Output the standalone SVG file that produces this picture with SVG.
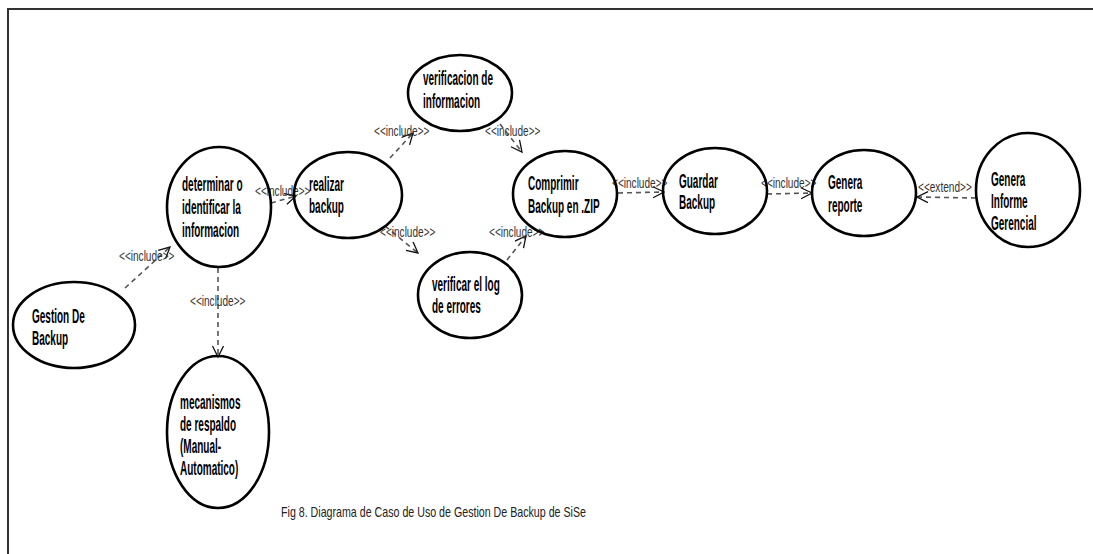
<svg xmlns="http://www.w3.org/2000/svg" width="1093" height="554" viewBox="0 0 1093 554">
  <style>
    .uc { fill: none; stroke: #000000; stroke-width: 2.6; }
    .nt { font-family: "Liberation Sans", Arial, sans-serif; font-weight: bold; font-size: 20px; fill: #000000; }
    .lb { font-family: "Liberation Sans", Arial, sans-serif; font-size: 14px; fill: #333333; }
    .dep { fill: none; stroke: #555555; stroke-width: 1.6; stroke-dasharray: 5 4; marker-end: url(#open); }
    .frame { fill: none; stroke: #333333; stroke-width: 2; }
    .cap { font-family: "Liberation Sans", Arial, sans-serif; font-size: 15px; fill: #222222; }
  </style>
  <defs>
    <marker id="open" markerUnits="userSpaceOnUse" markerWidth="14" markerHeight="14" refX="12" refY="6" orient="auto">
      <path d="M1,0.5 L12,6 L1,11.5" fill="none" stroke="#111111" stroke-width="1.3" stroke-dasharray="none"/>
    </marker>
  </defs>

  <rect width="1093" height="554" fill="#ffffff"/>
  <path class="frame" d="M8,554 L8,9 L1093,9"/>

  <!-- dependency connectors -->
  <g id="connectors">
    <line class="dep" x1="125" y1="288" x2="170" y2="247"/>
    <line class="dep" x1="271" y1="203" x2="296" y2="196"/>
    <line class="dep" x1="218" y1="268" x2="218" y2="357"/>
    <line class="dep" x1="390" y1="158" x2="413" y2="133"/>
    <line class="dep" x1="500" y1="124" x2="522" y2="152"/>
    <line class="dep" x1="385" y1="226" x2="418" y2="253"/>
    <line class="dep" x1="507" y1="260" x2="526" y2="236"/>
    <line class="dep" x1="618" y1="193" x2="664" y2="192"/>
    <line class="dep" x1="767" y1="194" x2="812" y2="193"/>
    <line class="dep" x1="976" y1="198" x2="917" y2="197"/>

    <text class="lb" transform="translate(119,261) scale(0.72,1)">&lt;&lt;include&gt;&gt;</text>
    <text class="lb" transform="translate(255,196) scale(0.72,1)">&lt;&lt;include&gt;&gt;</text>
    <text class="lb" transform="translate(190,306) scale(0.72,1)">&lt;&lt;include&gt;&gt;</text>
    <text class="lb" transform="translate(374,136) scale(0.72,1)">&lt;&lt;include&gt;&gt;</text>
    <text class="lb" transform="translate(485,136) scale(0.72,1)">&lt;&lt;include&gt;&gt;</text>
    <text class="lb" transform="translate(380,237) scale(0.72,1)">&lt;&lt;include&gt;&gt;</text>
    <text class="lb" transform="translate(489,237) scale(0.72,1)">&lt;&lt;include&gt;&gt;</text>
    <text class="lb" transform="translate(612,188) scale(0.72,1)">&lt;&lt;include&gt;&gt;</text>
    <text class="lb" transform="translate(761,188) scale(0.72,1)">&lt;&lt;include&gt;&gt;</text>
    <text class="lb" transform="translate(918,192) scale(0.72,1)">&lt;&lt;extend&gt;&gt;</text>
  </g>

  <g id="gestion-backup">
    <ellipse class="uc" cx="74" cy="325" rx="61" ry="43"/>
    <text class="nt" transform="translate(32,323) scale(0.5,1)">Gestion De</text>
    <text class="nt" transform="translate(32,345) scale(0.5,1)">Backup</text>
  </g>

  <g id="determinar-informacion">
    <ellipse class="uc" cx="219" cy="207" rx="52" ry="60"/>
    <text class="nt" transform="translate(182,191) scale(0.5,1)">determinar o</text>
    <text class="nt" transform="translate(182,214) scale(0.5,1)">identificar la</text>
    <text class="nt" transform="translate(182,237) scale(0.5,1)">informacion</text>
  </g>

  <g id="mecanismos-respaldo">
    <ellipse class="uc" cx="218" cy="432" rx="51" ry="76"/>
    <text class="nt" transform="translate(180,409) scale(0.5,1)">mecanismos</text>
    <text class="nt" transform="translate(180,431) scale(0.5,1)">de respaldo</text>
    <text class="nt" transform="translate(180,453) scale(0.5,1)">(Manual-</text>
    <text class="nt" transform="translate(180,475) scale(0.5,1)">Automatico)</text>
  </g>

  <g id="realizar-backup">
    <ellipse class="uc" cx="348" cy="195" rx="54" ry="43"/>
    <text class="nt" transform="translate(309,191) scale(0.5,1)">realizar</text>
    <text class="nt" transform="translate(309,213) scale(0.5,1)">backup</text>
  </g>

  <g id="verificacion-informacion">
    <ellipse class="uc" cx="460" cy="93" rx="52" ry="38"/>
    <text class="nt" transform="translate(423,85) scale(0.5,1)">verificacion de</text>
    <text class="nt" transform="translate(423,108) scale(0.5,1)">informacion</text>
  </g>

  <g id="comprimir-backup">
    <ellipse class="uc" cx="565" cy="194" rx="52" ry="43"/>
    <text class="nt" transform="translate(528,190) scale(0.5,1)">Comprimir</text>
    <text class="nt" transform="translate(528,213) scale(0.5,1)">Backup en .ZIP</text>
  </g>

  <g id="verificar-log">
    <ellipse class="uc" cx="470" cy="295" rx="52" ry="43"/>
    <text class="nt" transform="translate(432,291) scale(0.5,1)">verificar el log</text>
    <text class="nt" transform="translate(432,313) scale(0.5,1)">de errores</text>
  </g>

  <g id="guardar-backup">
    <ellipse class="uc" cx="715" cy="191" rx="52" ry="43"/>
    <text class="nt" transform="translate(679,188) scale(0.5,1)">Guardar</text>
    <text class="nt" transform="translate(679,209) scale(0.5,1)">Backup</text>
  </g>

  <g id="genera-reporte">
    <ellipse class="uc" cx="864" cy="193" rx="52" ry="43"/>
    <text class="nt" transform="translate(828,189) scale(0.5,1)">Genera</text>
    <text class="nt" transform="translate(828,212) scale(0.5,1)">reporte</text>
  </g>

  <g id="informe-gerencial">
    <ellipse class="uc" cx="1028" cy="190" rx="52" ry="57"/>
    <text class="nt" transform="translate(991,186) scale(0.5,1)">Genera</text>
    <text class="nt" transform="translate(991,208) scale(0.5,1)">Informe</text>
    <text class="nt" transform="translate(991,230) scale(0.5,1)">Gerencial</text>
  </g>

  <text class="cap" x="281" y="517" textLength="305" lengthAdjust="spacingAndGlyphs">Fig 8. Diagrama de Caso de Uso de Gestion De Backup  de SiSe</text>
</svg>
